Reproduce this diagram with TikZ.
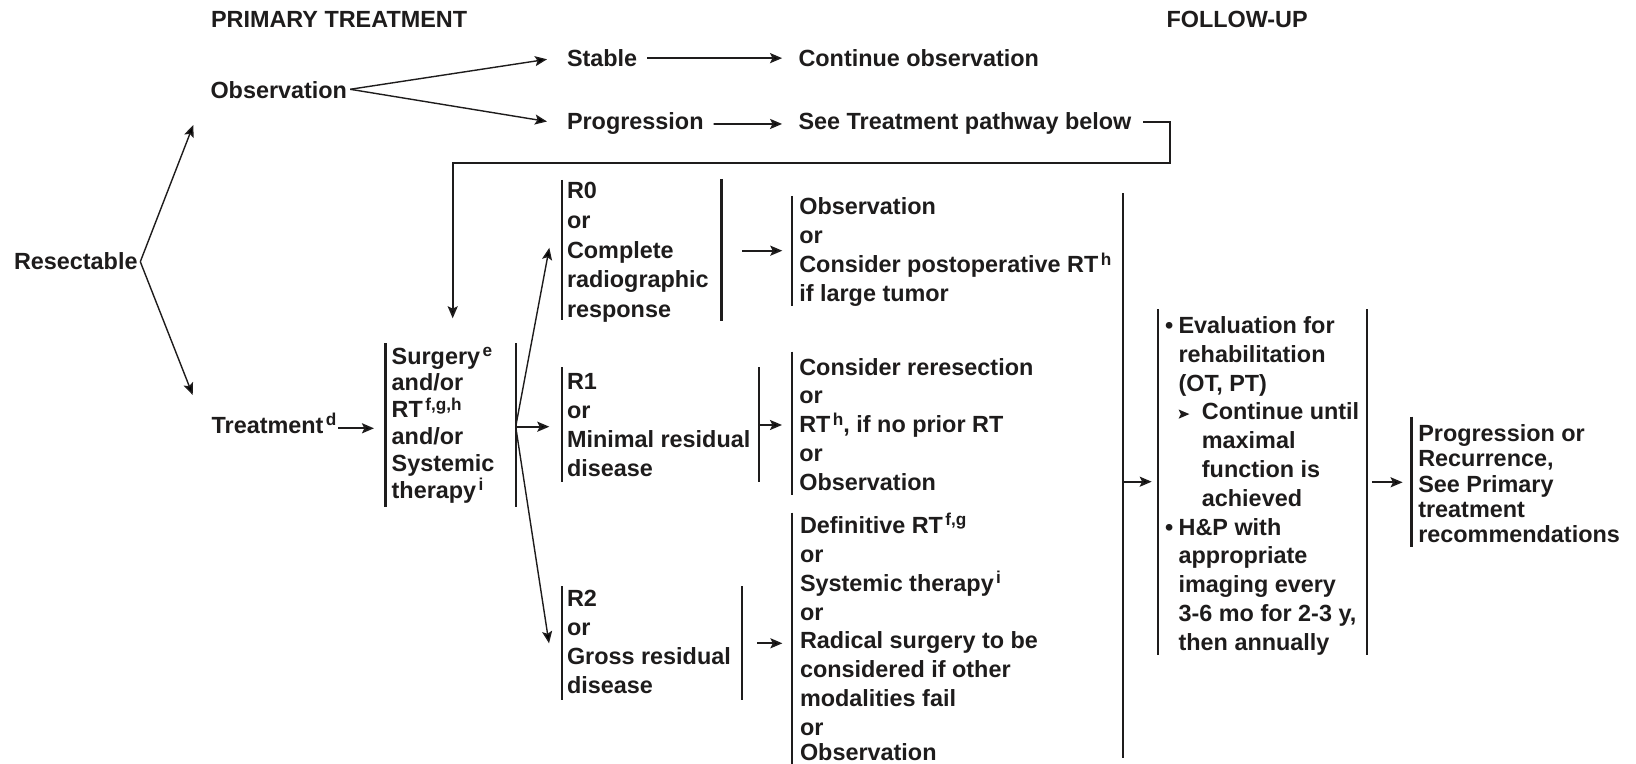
\documentclass[tikz,border=0pt]{standalone}
\usepackage{fontspec}
\setmainfont{Liberation Sans}
\usetikzlibrary{arrows.meta}
\definecolor{ink}{RGB}{30,28,28}
\newcommand{\sups}[1]{\kern1.2pt\raisebox{3.7pt}{\fontsize{8.6}{8.6}\selectfont #1}}
\newcommand{\firstln}{\rule{0pt}{11.7pt}}
\newcommand{\bul}{\llap{\textbullet\kern2.6pt}}
\newcommand{\subbul}{\makebox[11.65pt][l]{\tikz[baseline=0pt]\fill[ink] (0,0.6pt)--(5.4pt,2.9pt)--(0,5.2pt)--(1.1pt,2.9pt)--cycle;}}
\begin{document}
\begin{tikzpicture}[x=0.5pt,y=-0.5pt,
  txt/.style={inner sep=0pt, outer sep=0pt, anchor=base west, text=ink,
    font=\bfseries\fontsize{11.7}{14}\selectfont},
  blk/.style={inner sep=0pt, outer sep=0pt, anchor=north west, align=left, text=ink,
    font=\bfseries\fontsize{11.7}{#1}\selectfont},
  bar/.style={line width=1.1pt, draw=ink},
  arr/.style={line width=0.95pt, draw=ink, -{Stealth[length=6pt,width=5pt,inset=1.2pt]}},
  farr/.style={line width=0.7pt, draw=ink, -{Stealth[length=6pt,width=5pt,inset=1.2pt]}}
]
\fill[white] (0,0) rectangle (1636,764);
\useasboundingbox (0,0) rectangle (1636,764);

% headers
\node[txt] (hdrP) at (211,27.7) {PRIMARY TREATMENT};
\node[txt] (hdrF) at (1166.5,27.5) {FOLLOW-UP};

% single line nodes
\node[txt] (obs) at (210.5,99) {Observation};
\node[txt] (stable) at (567,66.5) {Stable};
\node[txt] (contobs) at (798.5,66.5) {Continue observation};
\node[txt] (prog) at (567,130) {Progression};
\node[txt] (seetp) at (798.5,130) {See Treatment pathway below};
\node[txt] (resect) at (14,269.7) {Resectable};
\node[txt] (treat) at (211.7,433.3) {Treatment\sups{d}};

% multi-line boxes
\node[blk=13.4pt] (surg) at (391.7,340.6) {\firstln Surgery\sups{e}\\and/or\\RT\sups{f,g,h}\\and/or\\Systemic\\therapy\sups{i}};
\node[blk=14.8pt] (r0) at (567,175.6) {\firstln R0\\or\\Complete\\radiographic\\response};
\node[blk=14.45pt] (obs2) at (799.3,191.6) {\firstln Observation\\or\\Consider postoperative RT\sups{h}\\if large tumor};
\node[blk=14.45pt] (r1) at (567,365.9) {\firstln R1\\or\\Minimal residual\\disease};
\node[blk=14.45pt] (reres) at (799.3,351.6) {\firstln Consider reresection\\or\\RT\sups{h}, if no prior RT\\or\\Observation};
\node[blk=14.5pt] (r2) at (567,583.3) {\firstln R2\\or\\Gross residual\\disease};
\node[blk=14.45pt] (defin) at (800,509.9) {\firstln Definitive RT\sups{f,g}\\or\\Systemic therapy\sups{i}\\or\\Radical surgery to be\\considered if other\\modalities fail\\or\\[-2.2pt]Observation};
\node[blk=14.4pt] (fu) at (1178.6,310.1) {\firstln\bul Evaluation for\\rehabilitation\\(OT, PT)\\\subbul Continue until\\\hspace*{11.65pt}maximal\\\hspace*{11.65pt}function is\\\hspace*{11.65pt}achieved\\\bul H\&P with\\appropriate\\imaging every\\3-6 mo for 2-3 y,\\then annually};
\node[blk=12.6pt] (prg) at (1418.3,418.3) {\firstln Progression or\\Recurrence,\\See Primary\\treatment\\recommendations};

% bars
\draw[bar] (385.5,343) -- (385.5,507);
\draw[bar] (515.7,343) -- (515.7,507);
\draw[bar] (562,180) -- (562,320.5);
\draw[bar] (721.5,179) -- (721.5,321);
\draw[bar] (791.7,196) -- (791.7,306);
\draw[bar] (562,367) -- (562,481.7);
\draw[bar] (759.3,367) -- (759.3,481.7);
\draw[bar] (791.7,351.7) -- (791.7,495);
\draw[bar] (562,586) -- (562,700);
\draw[bar] (742,586) -- (742,700);
\draw[bar] (791.6,512.7) -- (791.6,764);
\draw[bar] (1122.7,193.3) -- (1122.7,757.5);
\draw[bar] (1158.3,309.3) -- (1158.3,655);
\draw[bar] (1366.7,309.3) -- (1366.7,655);
\draw[bar] (1411.5,416.7) -- (1411.5,546.7);

% connector coordinates
\coordinate (obsF) at (350.2,89.3);
\coordinate (stIn) at (547,59.3);
\coordinate (prIn) at (547,121.5);
\coordinate (loopR) at (1169.6,163.3);
\coordinate (surgIn) at (452.7,318.3);
\coordinate (resF) at (140.3,261.7);
\coordinate (obsIn) at (193.3,125);
\coordinate (treatIn) at (192.7,395);
\coordinate (surgL) at (374,428.3);
\coordinate (sF) at (515.7,426.7);
\coordinate (r0In) at (549.3,247.8);
\coordinate (r1In) at (549.3,426.7);
\coordinate (r2In) at (549,643.3);
\coordinate (r0Out) at (742.3,250.7);
\coordinate (obs2In) at (782.3,250.7);
\coordinate (r1Out) at (759.3,425);
\coordinate (reresIn) at (782,425);
\coordinate (r2Out) at (757.2,643.3);
\coordinate (definIn) at (782.4,643.3);
\coordinate (bigOut) at (1122.7,481.7);
\coordinate (fuIn) at (1151.7,481.7);
\coordinate (fuOut) at (1371.8,482.3);
\coordinate (prgIn) at (1402.6,482.3);

% connectors
\draw[farr] (obsF) -- (stIn);
\draw[farr] (obsF) -- (prIn);
\draw[arr, shorten <=5pt, shorten >=8.2pt] (stable.east) -- (contobs.west);
\draw[arr, shorten <=5pt, shorten >=8.2pt] (prog.east) -- (seetp.west);
\draw[arr] ([xshift=6pt,yshift=1.1pt]seetp.east) -| (loopR) -| (surgIn);
\draw[farr] (resF) -- (obsIn);
\draw[farr] (resF) -- (treatIn);
\draw[arr, shorten <=1pt] ([yshift=2.5pt]treat.base east) -- (surgL);
\draw[farr] (sF) -- (r0In);
\draw[arr] (sF) -- (r1In);
\draw[farr] (sF) -- (r2In);
\draw[arr] (r0Out) -- (obs2In);
\draw[arr] (r1Out) -- (reresIn);
\draw[arr] (r2Out) -- (definIn);
\draw[arr] (bigOut) -- (fuIn);
\draw[arr] (fuOut) -- (prgIn);
\end{tikzpicture}
\end{document}
